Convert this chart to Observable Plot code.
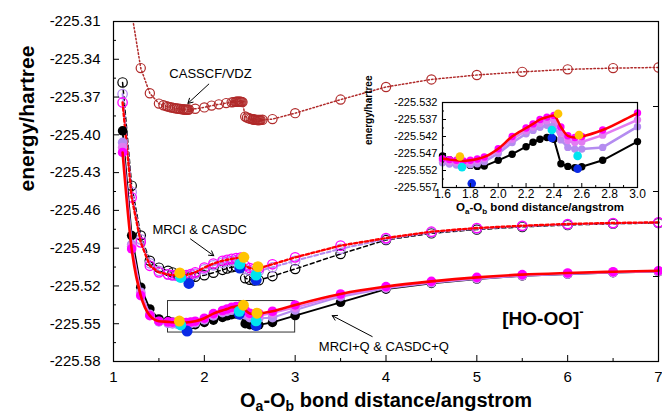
<!DOCTYPE html>
<html><head><meta charset="utf-8">
<script src="https://cdn.jsdelivr.net/npm/d3@7"></script>
<script src="https://cdn.jsdelivr.net/npm/@observablehq/plot@0.6"></script>
<style>
body{margin:0;background:#fff;}
#wrap{position:relative;width:662px;height:416px;}
</style></head><body><div id="wrap"></div>
<script>
// ---------- axes / ticks ----------
const mainXDomain = [1, 7];
const mainYDomain = [-225.58, -225.31];
const xMajor = [1, 2, 3, 4, 5, 6, 7];
const xLabels = ["1", "2", "3", "4", "5", "6", "7"];
const xMinor = [1.5, 2.5, 3.5, 4.5, 5.5, 6.5];
const yMajor = [-225.31, -225.34, -225.37, -225.40, -225.43, -225.46, -225.49, -225.52, -225.55, -225.58];
const yLabels = ["-225.31", "-225.34", "-225.37", "-225.40", "-225.43", "-225.46", "-225.49", "-225.52", "-225.55", "-225.58"];
const yMinor = [-225.325, -225.355, -225.385, -225.415, -225.445, -225.475, -225.505, -225.535, -225.565];
const yRight = [-225.3775, -225.445, -225.5125];

const insetXDomain = [1.6, 3.0];
const insetYDomain = [-225.557, -225.532];
const ixMajor = [1.6, 1.8, 2.0, 2.2, 2.4, 2.6, 2.8, 3.0];
const ixLabels = ["1.6", "1.8", "2.0", "2.2", "2.4", "2.6", "2.8", "3.0"];
const ixMinor = [1.7, 1.9, 2.1, 2.3, 2.5, 2.7, 2.9];
const iyMajor = [-225.532, -225.537, -225.542, -225.547, -225.552, -225.557];
const iyLabels = ["-225.532", "-225.537", "-225.542", "-225.547", "-225.552", "-225.557"];
const iyMinor = [-225.5345, -225.5395, -225.5445, -225.5495, -225.5545];

// ---------- CASSCF/VDZ ----------
const casX = [1.2, 1.3, 1.4, 1.5, 1.55, 1.58, 1.6, 1.62, 1.64, 1.66, 1.68, 1.7, 1.72, 1.74, 1.76, 1.77, 1.78, 1.79, 1.8, 1.81, 1.82, 1.83, 1.9, 2.0, 2.08, 2.16, 2.24, 2.3, 2.32, 2.34, 2.35, 2.36, 2.37, 2.38, 2.39, 2.4, 2.41, 2.42, 2.45, 2.47, 2.49, 2.51, 2.53, 2.54, 2.55, 2.56, 2.57, 2.58, 2.59, 2.6, 2.61, 2.62, 2.64, 2.75, 3.0, 3.5, 4.0, 4.5, 5.0, 5.5, 6.0, 6.5, 7.0];
const casE = [-225.303, -225.347, -225.367, -225.3752, -225.3765, -225.3772, -225.3776, -225.378, -225.3783, -225.3786, -225.3789, -225.3791, -225.3793, -225.3795, -225.3797, -225.3798, -225.3799, -225.38, -225.38, -225.38, -225.38, -225.3799, -225.3793, -225.3782, -225.3768, -225.3758, -225.3748, -225.3742, -225.374, -225.3738, -225.3737, -225.3737, -225.3736, -225.3736, -225.3736, -225.3737, -225.3738, -225.374, -225.3855, -225.3862, -225.3868, -225.3872, -225.3876, -225.3878, -225.3879, -225.388, -225.3881, -225.3882, -225.3882, -225.3882, -225.3882, -225.3881, -225.388, -225.3875, -225.3828, -225.372, -225.362, -225.356, -225.3525, -225.35, -225.348, -225.347, -225.3465];

// ---------- MRCI / CASDC (upper group) ----------
const rX = [1.1, 1.2, 1.3, 1.4, 1.5, 1.6, 1.65, 1.7, 1.75, 1.8, 1.85, 1.9, 2.0, 2.1, 2.2, 2.25, 2.3, 2.35, 2.4, 2.45, 2.5, 2.55, 2.6, 2.75, 3.0, 3.5, 4.0, 4.5, 5.0, 5.5, 6.0, 6.5, 7.0];
const mrciE = [-225.3584, -225.4404, -225.48, -225.5, -225.5055, -225.508, -225.5093, -225.5108, -225.5118, -225.5126, -225.513, -225.5127, -225.5115, -225.5095, -225.5072, -225.5062, -225.5052, -225.5047, -225.505, -225.5138, -225.515, -225.5156, -225.5155, -225.5122, -225.5065, -225.4946, -225.4835, -225.4782, -225.4752, -225.4731, -225.4716, -225.4706, -225.47];
const casdcLavE = [-225.3676, -225.4455, -225.483, -225.502, -225.508, -225.5108, -225.5116, -225.5121, -225.5123, -225.5121, -225.5115, -225.5104, -225.5068, -225.5036, -225.5015, -225.5007, -225.5, -225.4995, -225.4993, -225.5065, -225.5078, -225.5084, -225.5082, -225.5052, -225.5, -225.4905, -225.4828, -225.4775, -225.4745, -225.4726, -225.4712, -225.4703, -225.4697];
const casdcMagE = [-225.3743, -225.4497, -225.4854, -225.504, -225.5092, -225.5108, -225.5114, -225.5117, -225.5117, -225.5113, -225.5105, -225.5092, -225.5054, -225.5022, -225.5, -225.4992, -225.4985, -225.4979, -225.4975, -225.504, -225.5058, -225.5064, -225.5061, -225.5028, -225.4973, -225.488, -225.482, -225.4769, -225.474, -225.4722, -225.4708, -225.47, -225.4695];

// ---------- MRCI+Q / CASDC+Q (lower group) ----------
const mrciQE = [-225.3968, -225.48, -225.521, -225.5383, -225.5462, -225.5477, -225.5488, -225.5495, -225.55, -225.5505, -225.5508, -225.5507, -225.549, -225.5472, -225.545, -225.5437, -225.5428, -225.5423, -225.5428, -225.55, -225.5508, -225.5512, -225.5509, -225.549, -225.5435, -225.533, -225.5225, -225.518, -225.5145, -225.512, -225.5105, -225.5095, -225.5087];
const casdcQLavE = [-225.406, -225.487, -225.525, -225.5425, -225.5485, -225.5497, -225.5501, -225.5504, -225.5505, -225.5503, -225.55, -225.5494, -225.547, -225.5438, -225.5412, -225.5402, -225.5393, -225.5387, -225.5385, -225.543, -225.5452, -225.5457, -225.5457, -225.5452, -225.5391, -225.5285, -225.5218, -225.5175, -225.5142, -225.5119, -225.5105, -225.5094, -225.5086];
const casdcQOrcE = [-225.41, -225.4885, -225.5262, -225.543, -225.5482, -225.549, -225.5494, -225.5496, -225.5497, -225.5495, -225.5491, -225.5485, -225.5462, -225.5428, -225.5403, -225.5392, -225.5381, -225.5374, -225.537, -225.541, -225.5432, -225.5438, -225.5436, -225.5416, -225.5371, -225.5275, -225.5212, -225.517, -225.5138, -225.5116, -225.5102, -225.5092, -225.5084];
const casdcQMagE = [-225.414, -225.4906, -225.5277, -225.5436, -225.548, -225.5485, -225.5488, -225.549, -225.5492, -225.549, -225.5486, -225.548, -225.5456, -225.542, -225.5395, -225.5383, -225.537, -225.5363, -225.5358, -225.5392, -225.5418, -225.5423, -225.542, -225.5401, -225.5351, -225.5264, -225.5205, -225.5164, -225.5132, -225.511, -225.5097, -225.5087, -225.5079];

// ---------- highlighted points ----------
const upYellowX = [1.73, 2.435, 2.59],  upYellowE = [-225.5097, -225.4973, -225.5047];
const upCyanX = [1.74, 2.39, 2.57],     upCyanE = [-225.5132, -225.5026, -225.5113];
const upBlueX = [1.83, 2.39, 2.57],     upBlueE = [-225.518, -225.5058, -225.5153];
const loYellowX = [1.725, 2.43, 2.58],  loYellowE = [-225.5479, -225.5353, -225.5416];
const loCyanX = [1.74, 2.385, 2.57],    loCyanE = [-225.551, -225.5401, -225.5477];
const loBlueX = [1.81, 2.385, 2.57],    loBlueE = [-225.5558, -225.5424, -225.5515];

// ---------- annotations ----------
const annText = ["CASSCF/VDZ", "MRCI & CASDC", "MRCI+Q & CASDC+Q"];
const annX = [2.068, 1.949, 3.976];
const annY = [-225.3517, -225.4753, -225.568];
const arrX1 = [2.049, 1.848, 3.848], arrY1 = [-225.3597, -225.4827, -225.5602];
const arrX2 = [1.819, 2.104, 3.408], arrY2 = [-225.375, -225.496, -225.5436];
const molLabel = "[HO-OO]", molX = 5.28, molY = -225.546;
const xTitle = "Oa-Ob bond distance/angstrom";
const yTitle = "energy/hartree";

// ---------- colours ----------
const C = {cas: "#b02a2a", black: "#000000", lav: "#b48cf0", orc: "#e27cf2", mag: "#ff00ff", red: "#ff0000", yellow: "#ffc400", cyan: "#00e4ef", blue: "#0a2ae6"};
const font = "'Liberation Sans', Arial, sans-serif";

const rows = (xs, ys) => xs.map((x, i) => ({x, y: ys[i]}));
const fmt = (ticks, labels) => d => labels[ticks.findIndex(t => Math.abs(t - d) < 1e-9)];

const cas = rows(casX, casE);
const mrci = rows(rX, mrciE), lav = rows(rX, casdcLavE), mag = rows(rX, casdcMagE);
const mrciQ = rows(rX, mrciQE), lavQ = rows(rX, casdcQLavE), orcQ = rows(rX, casdcQOrcE), magQ = rows(rX, casdcQMagE);
const ann = annText.map((t, i) => ({t, x: annX[i], y: annY[i]}));
const arr = arrX1.map((x, i) => ({x1: x, y1: arrY1[i], x2: arrX2[i], y2: arrY2[i]}));

const specials = (s) => [
  Plot.dot(rows(s.bx, s.be), {x: "x", y: "y", r: s.r, fill: C.blue}),
  Plot.dot(rows(s.cx, s.ce), {x: "x", y: "y", r: s.r, fill: C.cyan}),
  Plot.dot(rows(s.yx, s.ye), {x: "x", y: "y", r: s.r, fill: C.yellow})
];

const main = Plot.plot({
  width: 662, height: 416,
  marginLeft: 113, marginRight: 4, marginTop: 21, marginBottom: 55,
  x: {domain: mainXDomain},
  y: {domain: mainYDomain},
  style: {fontFamily: font, fontSize: "15px", color: "black", background: "white", overflow: "visible"},
  marks: [
    // inset window
    Plot.rect([{x1: insetXDomain[0], x2: insetXDomain[1], y1: insetYDomain[0], y2: insetYDomain[1]}], {x1: "x1", x2: "x2", y1: "y1", y2: "y2", fill: "none", stroke: "#333", strokeWidth: 1}),
    // CASSCF
    Plot.line(cas, {x: "x", y: "y", stroke: C.cas, strokeWidth: 1.5, strokeDasharray: "1.5,2.2", clip: true}),
    Plot.dot(cas, {x: "x", y: "y", r: 4.6, stroke: C.cas, strokeWidth: 1.2, fill: "none", clip: true}),
    // upper group
    Plot.line(mrci, {x: "x", y: "y", stroke: C.black, strokeWidth: 1.5, strokeDasharray: "4,3"}),
    Plot.line(lav, {x: "x", y: "y", stroke: C.lav, strokeWidth: 2, strokeDasharray: "4,2.5"}),
    Plot.dot(mrci, {x: "x", y: "y", r: 4.7, stroke: C.black, strokeWidth: 1.2, fill: "none"}),
    Plot.dot(lav, {x: "x", y: "y", r: 4.7, stroke: C.lav, strokeWidth: 1.3, fill: "none"}),
    Plot.dot(mag, {x: "x", y: "y", r: 4.7, stroke: C.mag, strokeWidth: 1.3, fill: "none"}),
    Plot.line(mag, {x: "x", y: "y", stroke: C.red, strokeWidth: 2.4, strokeDasharray: "3,2.5"}),
    ...specials({bx: upBlueX, be: upBlueE, cx: upCyanX, ce: upCyanE, yx: upYellowX, ye: upYellowE, r: 5.5}),
    // lower group
    Plot.line(mrciQ, {x: "x", y: "y", stroke: C.black, strokeWidth: 1.8}),
    Plot.dot(mrciQ, {x: "x", y: "y", r: 4.8, fill: C.black}),
    Plot.line(lavQ, {x: "x", y: "y", stroke: C.lav, strokeWidth: 2}),
    Plot.dot(lavQ, {x: "x", y: "y", r: 4.8, fill: C.lav}),
    Plot.line(orcQ, {x: "x", y: "y", stroke: C.orc, strokeWidth: 2}),
    Plot.dot(orcQ, {x: "x", y: "y", r: 4.8, fill: C.orc}),
    Plot.dot(magQ, {x: "x", y: "y", r: 4.8, fill: C.mag}),
    Plot.line(magQ, {x: "x", y: "y", stroke: C.red, strokeWidth: 2.6, curve: "monotone-x"}),
    ...specials({bx: loBlueX, be: loBlueE, cx: loCyanX, ce: loCyanE, yx: loYellowX, ye: loYellowE, r: 5.5}),
    // annotations
    Plot.arrow(arr, {x1: "x1", y1: "y1", x2: "x2", y2: "y2", stroke: "black", strokeWidth: 1, headLength: 8}),
    Plot.text(ann, {x: "x", y: "y", text: "t", fontSize: 13, fill: "black", lineAnchor: "middle"}),
    Plot.text([molLabel], {x: () => molX, y: () => molY, text: d => d, textAnchor: "start", fontSize: 19, fontWeight: "bold", lineAnchor: "middle"}),
    // axes
    Plot.frame({stroke: "black", strokeWidth: 1.2}),
    Plot.axisY({ticks: yMajor, tickSize: -6, tickFormat: () => "", label: null}),
    Plot.axisY({ticks: yMinor, tickSize: -3, tickFormat: () => "", label: null}),
    Plot.axisY({ticks: yMajor, tickSize: 0, tickPadding: 13, tickFormat: fmt(yMajor, yLabels), label: null, fontSize: 15}),
    Plot.axisY({anchor: "right", ticks: yRight, tickSize: -6, tickFormat: () => "", label: null}),
    Plot.axisX({ticks: xMajor, tickSize: -6, tickFormat: () => "", label: null}),
    Plot.axisX({ticks: xMinor, tickSize: -3, tickFormat: () => "", label: null}),
    Plot.axisX({ticks: xMajor, tickSize: 0, tickPadding: 10, tickFormat: fmt(xMajor, xLabels), label: null, fontSize: 15}),
    Plot.text([xTitle], {frameAnchor: "bottom", dy: 39, text: d => d, fontSize: 20, fontWeight: "bold", lineAnchor: "middle"}),
    Plot.text([yTitle], {frameAnchor: "left", dx: -86, rotate: -90, text: d => d, fontSize: 21, fontWeight: "bold", lineAnchor: "middle"})
  ]
});

const inRange = d => d.x >= insetXDomain[0] - 1e-9 && d.x <= insetXDomain[1] + 1e-9;
const inset = Plot.plot({
  width: 290, height: 130,
  marginLeft: 82, marginRight: 13, marginTop: 12, marginBottom: 33,
  x: {domain: insetXDomain},
  y: {domain: insetYDomain},
  style: {fontFamily: font, fontSize: "11px", color: "black", background: "transparent", overflow: "visible"},
  marks: [
    Plot.frame({fill: "white", stroke: "none"}),
    Plot.line(mrciQ, {x: "x", y: "y", stroke: C.black, strokeWidth: 2, clip: true}),
    Plot.dot(mrciQ.filter(inRange), {x: "x", y: "y", r: 3.7, fill: C.black}),
    Plot.line(lavQ, {x: "x", y: "y", stroke: C.lav, strokeWidth: 2.5, clip: true}),
    Plot.dot(lavQ.filter(inRange), {x: "x", y: "y", r: 3.7, fill: C.lav}),
    Plot.line(orcQ, {x: "x", y: "y", stroke: C.orc, strokeWidth: 2.5, clip: true}),
    Plot.dot(orcQ.filter(inRange), {x: "x", y: "y", r: 3.7, fill: C.orc}),
    Plot.dot(magQ.filter(inRange), {x: "x", y: "y", r: 3.7, fill: C.mag}),
    Plot.line(magQ, {x: "x", y: "y", stroke: C.red, strokeWidth: 2.5, curve: "monotone-x", clip: true}),
    ...specials({bx: loBlueX, be: loBlueE, cx: loCyanX, ce: loCyanE, yx: loYellowX, ye: loYellowE, r: 4.3}),
    Plot.frame({stroke: "black", strokeWidth: 1.2}),
    Plot.axisY({ticks: iyMajor, tickSize: -4, tickFormat: () => "", label: null}),
    Plot.axisY({ticks: iyMinor, tickSize: -2, tickFormat: () => "", label: null}),
    Plot.axisY({ticks: iyMajor, tickSize: 0, tickPadding: 5, tickFormat: fmt(iyMajor, iyLabels), label: null, fontSize: 11}),
    Plot.axisX({ticks: ixMajor, tickSize: -4, tickFormat: () => "", label: null}),
    Plot.axisX({ticks: ixMinor, tickSize: -2, tickFormat: () => "", label: null}),
    Plot.axisX({ticks: ixMajor, tickSize: 0, tickPadding: 2, tickFormat: fmt(ixMajor, ixLabels), label: null, fontSize: 12}),
    Plot.text([xTitle], {frameAnchor: "bottom", dy: 20, text: d => d, fontSize: 11.5, fontWeight: "bold", lineAnchor: "middle"}),
    Plot.text([yTitle], {frameAnchor: "left", dx: -74, rotate: -90, text: d => d, fontSize: 10, fontWeight: "bold", lineAnchor: "middle"})
  ]
});

const wrap = document.getElementById("wrap");
main.style.position = "absolute"; main.style.left = "0px"; main.style.top = "0px";
inset.style.position = "absolute"; inset.style.left = "360px"; inset.style.top = "90px";
wrap.appendChild(main);
wrap.appendChild(inset);

// subscripts / superscript as real text
function subscriptTitle(svg, size) {
  const sub = Math.round(size * 0.7), off = size * 0.22;
  d3.select(svg).selectAll("text").filter(function () { return this.textContent === xTitle; }).each(function () {
    const t = d3.select(this); t.text(null);
    t.append("tspan").text("O");
    t.append("tspan").attr("dy", off).attr("font-size", sub).text("a");
    t.append("tspan").attr("dy", -off).text("-O");
    t.append("tspan").attr("dy", off).attr("font-size", sub).text("b");
    t.append("tspan").attr("dy", -off).text(" bond distance/angstrom");
  });
}
subscriptTitle(main, 20);
subscriptTitle(inset, 11.5);
d3.select(main).selectAll("text").filter(function () { return this.textContent === molLabel; }).each(function () {
  d3.select(this).append("tspan").attr("dy", -9).attr("font-size", 13).text("-");
});
</script></body></html>
